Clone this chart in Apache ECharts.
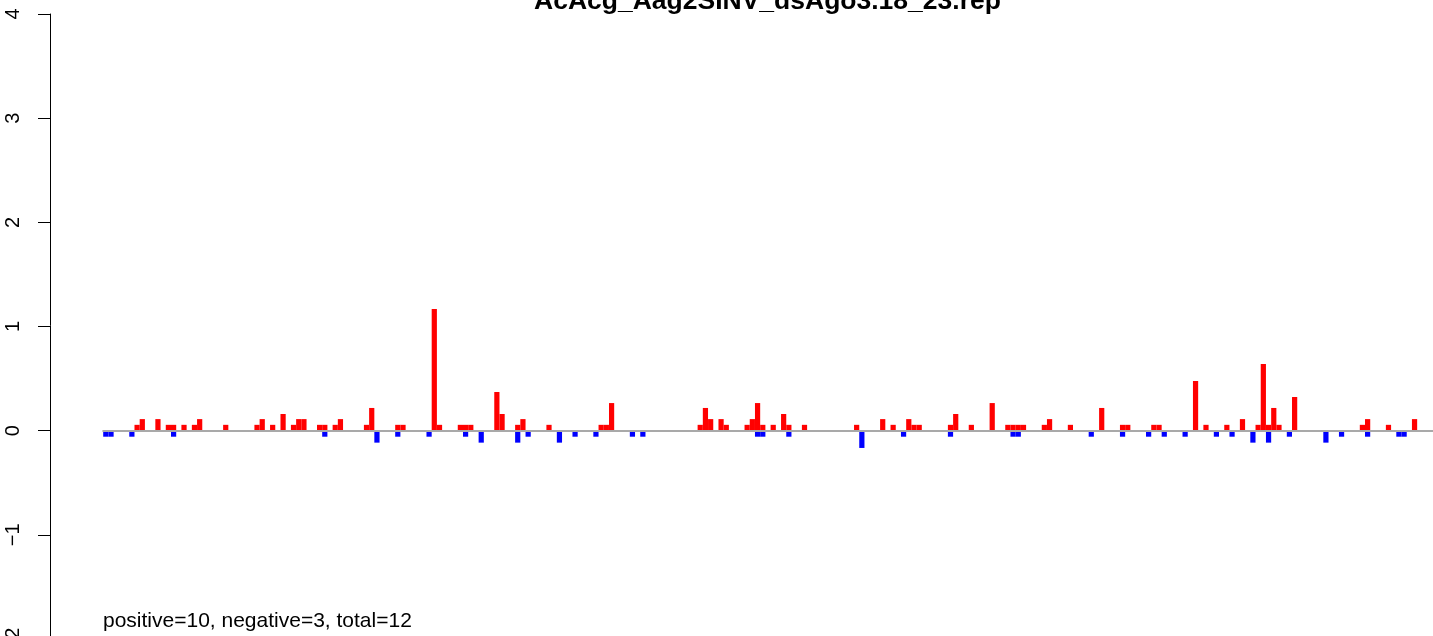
<!DOCTYPE html>
<html>
<head>
<meta charset="utf-8">
<script src="https://cdn.jsdelivr.net/npm/echarts@6/dist/echarts.min.js"></script>
<style>
html,body{margin:0;padding:0;background:#fff;}
#c{width:1433px;height:636px;}
</style>
</head>
<body>
<div id="c"></div>
<script>
// ---- data (bins are 1-based positions along the sequence) ----
const title = "AcAcg_Aag2SINV_dsAgo3.18_23.rep";
const note = "positive=10, negative=3, total=12";
const nBins = 255;
const posBins = [7,8,11,13,14,16,18,19,24,30,31,33,35,37,38,39,42,43,45,46,51,52,57,58,64,65,69,70,71,76,77,80,81,86,96,97,98,115,116,117,119,120,124,125,126,127,129,131,132,135,145,150,152,155,156,157,163,164,167,171,174,175,176,177,181,182,186,192,196,197,202,203,210,212,216,219,222,223,224,225,226,229,242,243,247,252];
const posVals = [0.056,0.111,0.111,0.056,0.056,0.056,0.056,0.111,0.056,0.056,0.111,0.056,0.16,0.056,0.111,0.111,0.056,0.056,0.056,0.111,0.056,0.218,0.056,0.056,1.168,0.056,0.056,0.056,0.056,0.371,0.16,0.056,0.111,0.056,0.056,0.056,0.265,0.056,0.218,0.111,0.111,0.056,0.056,0.111,0.265,0.056,0.056,0.16,0.056,0.056,0.056,0.111,0.056,0.111,0.056,0.056,0.056,0.16,0.056,0.265,0.056,0.056,0.056,0.056,0.056,0.111,0.056,0.218,0.056,0.056,0.056,0.056,0.477,0.056,0.056,0.111,0.056,0.64,0.056,0.218,0.056,0.323,0.056,0.111,0.056,0.111];
const negBins = [1,2,6,14,43,53,57,63,70,73,80,82,88,91,95,102,104,126,127,132,146,154,163,175,176,190,196,201,204,208,214,217,221,224,228,235,238,243,249,250];
const negVals = [-0.058,-0.058,-0.058,-0.058,-0.058,-0.115,-0.058,-0.058,-0.058,-0.115,-0.115,-0.058,-0.115,-0.058,-0.058,-0.058,-0.058,-0.058,-0.058,-0.058,-0.166,-0.058,-0.058,-0.058,-0.058,-0.058,-0.058,-0.058,-0.058,-0.058,-0.058,-0.058,-0.115,-0.115,-0.058,-0.115,-0.058,-0.058,-0.058,-0.058];
const yTicks = [-2,-1,0,1,2,3,4];

// ---- build series arrays ----
const categories = [];
for (let i = 1; i <= nBins; i++) categories.push(String(i));
const posData = new Array(nBins).fill(0);
posBins.forEach((b, i) => { posData[b - 1] = posVals[i]; });
const negData = new Array(nBins).fill(0);
negBins.forEach((b, i) => { negData[b - 1] = negVals[i]; });

const FONT = "'Liberation Sans', Arial, Helvetica, sans-serif";
const chart = echarts.init(document.getElementById('c'), null, {renderer: 'canvas'});
chart.setOption({
  animation: false,
  backgroundColor: '#ffffff',
  grid: {left: 103.2, width: 1329.6, top: 14, height: 625, containLabel: false, outerBoundsMode: 'none'},
  xAxis: {
    type: 'category',
    data: categories,
    z: 10,
    axisLine: {show: true, onZero: true, lineStyle: {color: '#a9a9a9', width: 2}},
    axisTick: {show: false},
    axisLabel: {show: false},
    splitLine: {show: false}
  },
  yAxis: {
    type: 'value',
    min: yTicks[0],
    max: yTicks[yTicks.length - 1],
    interval: 1,
    offset: 53.2,
    axisLine: {show: true, lineStyle: {color: '#000', width: 1}},
    axisTick: {show: true, length: 12, lineStyle: {color: '#000', width: 1}},
    axisLabel: {show: true, rotate: 90, margin: 27, color: '#000', fontSize: 20, fontFamily: FONT,
      formatter: v => String(v).replace('-', '\u2212')},
    splitLine: {show: false}
  },
  series: [
    {type: 'bar', data: posData, barWidth: '100%', barGap: '-100%', itemStyle: {color: '#ff0000'}, silent: true},
    {type: 'bar', data: negData, barWidth: '100%', barGap: '-100%', itemStyle: {color: '#0000ff'}, silent: true}
  ],
  graphic: [
    {type: 'text', left: 534, top: -12,
     style: {text: title, font: "bold 26.5px " + FONT, fill: '#000'}},
    {type: 'text', left: 103, top: 611,
     style: {text: note, font: "21px " + FONT, fill: '#000'}}
  ]
});
</script>
</body>
</html>
